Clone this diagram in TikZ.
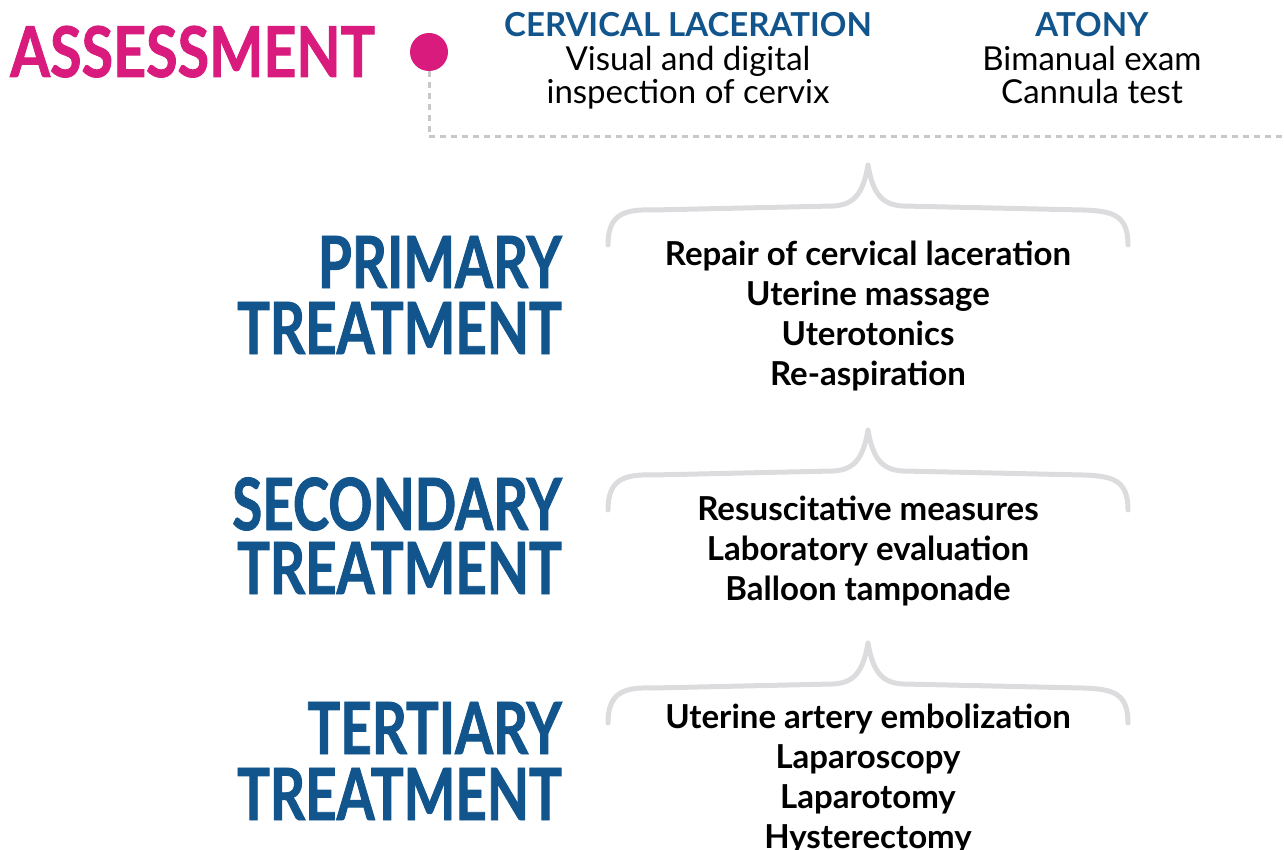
\documentclass[tikz,border=0pt]{standalone}
\usepackage{fontspec}
\setmainfont{Lato}
\newfontfamily\headfont[FakeStretch=0.76, FakeBold=1.2]{Lato}
\newfontfamily\assessfont[FakeStretch=0.82, FakeBold=1.2]{Lato}
\definecolor{asspink}{HTML}{D81B7C}
\definecolor{treatblue}{HTML}{11558C}
\definecolor{bracegray}{HTML}{DCDCDE}
\definecolor{dashgray}{HTML}{C8C8CA}
\begin{document}
\begin{tikzpicture}[x=1pt,y=-1pt]
\tikzstyle{head} = [inner sep=0, anchor=base east, text height=52pt, text depth=0pt, text=treatblue, font=\headfont\bfseries\fontsize{72}{72}\selectfont]
\tikzstyle{cause} = [inner sep=0, anchor=base, text=treatblue, font=\bfseries\fontsize{33}{33}\selectfont]
\tikzstyle{check} = [inner sep=0, anchor=base, align=center, font=\fontsize{33}{33}\selectfont]
\tikzstyle{steps} = [inner sep=0, anchor=base, align=center, font=\bfseries\fontsize{33}{40}\selectfont]
\tikzstyle{brace} = [draw=bracegray, line width=5pt, line cap=round, line join=round]
\useasboundingbox (0,0) rectangle (1284,850);
% assessment row
\node[inner sep=0, anchor=base west, text=asspink, font=\assessfont\bfseries\fontsize{70}{70}\selectfont](assess) at (10,77){ASSESSMENT};
\node[circle, fill=asspink, minimum size=38pt, inner sep=0](dot) at (429,52){};
\coordinate (dashend) at (1284,137);
\draw[dashgray, line width=3pt, dash pattern=on 6pt off 5pt] (dot.south) |- (dashend);
\node[cause](cervical) at (688,37){CERVICAL LACERATION};
\node[check](cervicalcheck) at (688,104){Visual and digital\\inspection of cervix};
\node[cause](atony) at (1092,37){ATONY};
\node[check](atonycheck) at (1092,104){Bimanual exam\\Cannula test};
% treatment headings
\node[head](primary) at (562,288){PRIMARY};
\node[head](primary2) at (562,354){TREATMENT};
\node[head](secondary) at (562,530){SECONDARY};
\node[head](secondary2) at (562,594){TREATMENT};
\node[head](tertiary) at (562,754){TERTIARY};
\node[head](tertiary2) at (562,820){TREATMENT};
% braces
\coordinate (peak1) at (868,165);
\coordinate (peak2) at (868,430);
\coordinate (peak3) at (868,643);
\foreach \p in {peak1, peak2, peak3}
  \draw[brace] (\p) ++(-260,80) .. controls +(0,-30) and +(-30,-1) .. ++(45,-35)
    -- ++(180,-4) .. controls +(20,-1) and +(-5,30) .. ++(35,-41)
    .. controls +(5,30) and +(-20,-1) .. ++(35,41)
    -- ++(180,4) .. controls +(30,1) and +(0,-30) .. ++(45,35);
% treatment lists
\node[steps](primarylist) at (868,385){Repair of cervical laceration\\Uterine massage\\Uterotonics\\Re-aspiration};
\node[steps](secondarylist) at (868,600){Resuscitative measures\\Laboratory evaluation\\Balloon tamponade};
\node[steps](tertiarylist) at (868,848){Uterine artery embolization\\Laparoscopy\\Laparotomy\\Hysterectomy};
\end{tikzpicture}
\end{document}
